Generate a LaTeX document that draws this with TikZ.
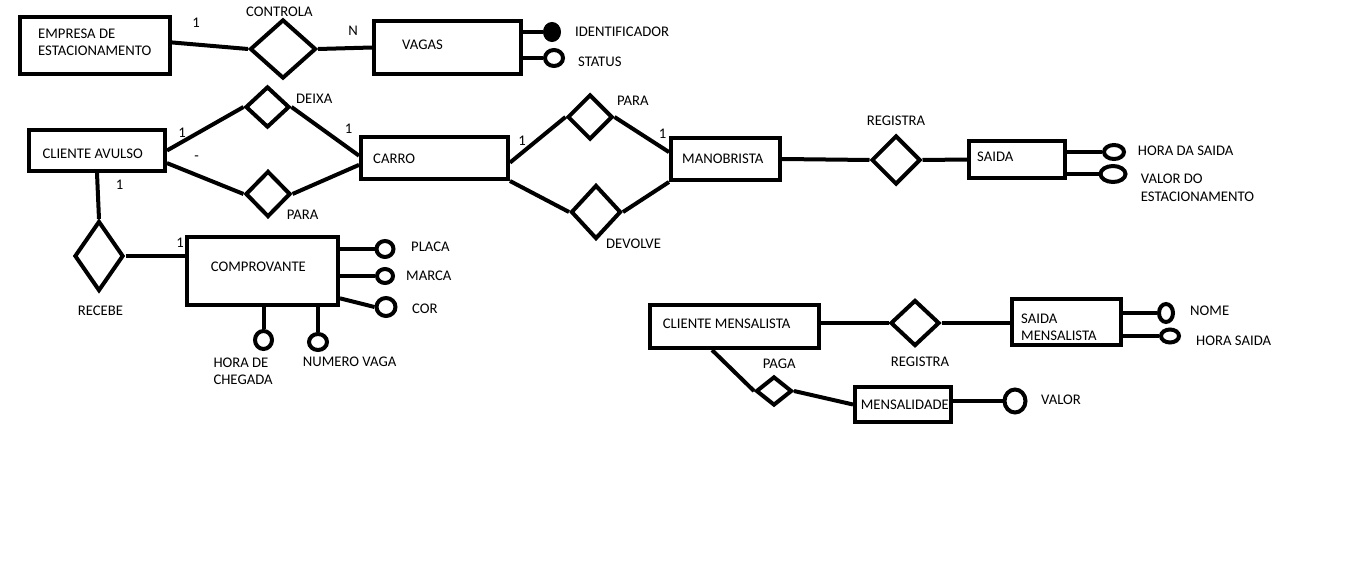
\documentclass[tikz,border=0pt]{standalone}
\usepackage{fontspec}
\setmainfont{Carlito}
\usetikzlibrary{shapes.geometric,calc}
\begin{document}
\begin{tikzpicture}[x=1pt,y=-1pt,
  every node/.style={inner sep=0pt},
  ent/.style={draw,line width=4pt,line join=miter,rectangle},
  rel/.style={draw,line width=4pt,line join=miter,diamond},
  attr/.style={draw,line width=4pt,ellipse},
  keyattr/.style={attr,fill=black},
  txt/.style={font=\fontsize{14.7}{17.5}\selectfont},
  lbl/.style={txt,anchor=west,text height=9.5pt,text depth=0pt},
  mlbl/.style={txt,anchor=north west,align=left},
  card/.style={txt,anchor=center,text height=9.5pt,text depth=0pt},
  link/.style={line width=4pt}]
\fill[white] (0,0) rectangle (1360,578);
\useasboundingbox (0,0) rectangle (1360,578);

% entities
\node[ent,minimum width=150pt,minimum height=57pt] (emp) at (95,45.5) {};
\node[ent,minimum width=147pt,minimum height=53pt] (vagas) at (447.5,47.5) {};
\node[ent,minimum width=136pt,minimum height=41pt] (avulso) at (97,150.5) {};
\node[ent,minimum width=147pt,minimum height=42pt] (carro) at (434.5,158) {};
\node[ent,minimum width=109pt,minimum height=42pt] (mano) at (725.5,159) {};
\node[ent,minimum width=96pt,minimum height=37pt] (saida) at (1017,159.5) {};
\node[ent,minimum width=151pt,minimum height=68pt] (comp) at (262.5,271) {};
\node[ent,minimum width=169pt,minimum height=43pt] (mensalista) at (734.5,326.5) {};
\node[ent,minimum width=109pt,minimum height=46pt] (saidam) at (1066.5,322) {};
\node[ent,minimum width=96pt,minimum height=35pt] (mens) at (903,404.5) {};

% relationships
\node[rel,minimum width=66pt,minimum height=59pt] (controla) at (283,49) {};
\node[rel,minimum width=44pt,minimum height=41pt] (deixa) at (267.5,107) {};
\node[rel,minimum width=45pt,minimum height=46pt] (para1) at (268,194) {};
\node[rel,minimum width=49pt,minimum height=70pt] (recebe) at (99,256) {};
\node[rel,minimum width=45pt,minimum height=45pt] (para2) at (590,117) {};
\node[rel,minimum width=50pt,minimum height=54pt] (devolve) at (596,212) {};
\node[rel,minimum width=49pt,minimum height=49pt] (reg1) at (896,160) {};
\node[rel,minimum width=49pt,minimum height=46pt] (reg2) at (915,323) {};
\node[rel,minimum width=36pt,minimum height=29pt] (paga) at (774,391) {};

% attributes
\node[keyattr,minimum width=14pt,minimum height=16pt] (ident) at (552,32) {};
\node[attr,minimum width=18pt,minimum height=16pt] (status) at (554,58) {};
\node[attr,minimum width=17pt,minimum height=16pt] (placa) at (385,249) {};
\node[attr,minimum width=16pt,minimum height=14pt] (marca) at (385,276) {};
\node[attr,minimum width=19pt,minimum height=18pt] (cor) at (386,307) {};
\node[attr,minimum width=17pt,minimum height=18pt] (chegada) at (263.5,340) {};
\node[attr,minimum width=18pt,minimum height=16pt] (numvaga) at (318,342) {};
\node[attr,minimum width=20pt,minimum height=14pt] (horasaida) at (1114,152) {};
\node[attr,minimum width=25pt,minimum height=16pt] (valorest) at (1113,174) {};
\node[attr,minimum width=14pt,minimum height=18pt] (nome) at (1166,313) {};
\node[attr,minimum width=18pt,minimum height=13pt] (horasaidam) at (1170,336) {};
\node[attr,minimum width=21pt,minimum height=23pt] (valor) at (1015,401) {};

% connectors
\draw[link] ($(emp.north east)!0.45!(emp.south east)$) -- (controla.west);
\draw[link] (controla.east) -- (vagas.west);
\draw[link] (vagas.east |- ident.west) -- (ident.west);
\draw[link] (vagas.east |- status.west) -- (status.west);
\draw[link] (avulso.east) -- (deixa.west);
\draw[link] ($(avulso.north east)!0.78!(avulso.south east)$) -- (para1.west);
\draw[link] (deixa.east) -- ($(carro.north west)!0.45!(carro.south west)$);
\draw[link] (para1.east) -- ($(carro.north west)!0.65!(carro.south west)$);
\draw[link] (avulso.south) -- (recebe.north);
\draw[link] (recebe.east) -- (comp.west |- recebe.east);
\draw[link] (comp.east |- placa.west) -- (placa.west);
\draw[link] (comp.east |- marca.west) -- (marca.west);
\draw[link] ($(comp.north east)!0.88!(comp.south east)$) -- (cor.west);
\draw[link] (chegada.north |- comp.south) -- (chegada.north);
\draw[link] (numvaga.north |- comp.south) -- (numvaga.north);
\draw[link] ($(carro.north east)!0.6!(carro.south east)$) -- (para2.west);
\draw[link] (para2.east) -- ($(mano.north west)!0.35!(mano.south west)$);
\draw[link] (carro.south east) -- (devolve.west);
\draw[link] (devolve.east) -- (mano.south west);
\draw[link] (mano.east) -- (reg1.west);
\draw[link] (reg1.east) -- (saida.west);
\draw[link] (saida.east |- horasaida.west) -- (horasaida.west);
\draw[link] (saida.east |- valorest.west) -- (valorest.west);
\draw[link] (mensalista.east |- reg2.west) -- (reg2.west);
\draw[link] (reg2.east) -- (saidam.west |- reg2.east);
\draw[link] (saidam.east |- nome.west) -- (nome.west);
\draw[link] (saidam.east |- horasaidam.west) -- (horasaidam.west);
\draw[link] ($(mensalista.south west)!0.37!(mensalista.south east)$) -- (paga.west);
\draw[link] (paga.east) -- (mens.west);
\draw[link] (mens.east |- valor.west) -- (valor.west);

% texts
\node[mlbl] (t-emp) at (38,28.3) {EMPRESA DE\\ESTACIONAMENTO};
\node[lbl] (t-controla) at (246,11.3) {CONTROLA};
\node[lbl] (t-vagas) at (402,45) {VAGAS};
\node[lbl] (t-ident) at (575,32) {IDENTIFICADOR};
\node[lbl] (t-status) at (578,62) {STATUS};
\node[lbl] (t-avulso) at (42.3,153.7) {CLIENTE AVULSO};
\node[lbl] (t-deixa) at (296,98.8) {DEIXA};
\node[lbl] (t-para1) at (286.7,214.5) {PARA};
\node[lbl] (t-recebe) at (77.7,310.3) {RECEBE};
\node[lbl] (t-comp) at (210.7,266.3) {COMPROVANTE};
\node[mlbl] (t-chegada) at (213.3,357.3) {HORA DE\\CHEGADA};
\node[lbl] (t-numvaga) at (302.7,362) {NUMERO VAGA};
\node[lbl] (t-placa) at (411,247) {PLACA};
\node[lbl] (t-marca) at (406,276) {MARCA};
\node[lbl] (t-cor) at (412,309) {COR};
\node[lbl] (t-carro) at (373,158.7) {CARRO};
\node[lbl] (t-para2) at (617,100.8) {PARA};
\node[lbl] (t-devolve) at (606,243.8) {DEVOLVE};
\node[lbl] (t-mano) at (682,159.2) {MANOBRISTA};
\node[lbl] (t-reg1) at (866.7,120.5) {REGISTRA};
\node[lbl] (t-saida) at (977,156.3) {SAIDA};
\node[lbl] (t-horasaida) at (1137.7,150.5) {HORA DA SAIDA};
\node[mlbl] (t-valorest) at (1140.7,174) {VALOR DO\\ESTACIONAMENTO};
\node[lbl] (t-mensalista) at (662.7,324.2) {CLIENTE MENSALISTA};
\node[lbl] (t-reg2) at (890.7,362) {REGISTRA};
\node[lbl] (t-paga) at (762.7,364.2) {PAGA};
\node[lbl] (t-mens) at (860.7,404.3) {MENSALIDADE};
\node[mlbl] (t-saidam) at (1021,313.3) {SAIDA\\MENSALISTA};
\node[lbl] (t-nome) at (1190,310.7) {NOME};
\node[lbl] (t-horasaidam) at (1196,341) {HORA SAIDA};
\node[lbl] (t-valor) at (1041,400) {VALOR};

% cardinalities
\node[card] (c-emp) at (196,22.5) {1};
\node[card] (c-vagas) at (353,31) {N};
\node[card] (c-avulso) at (182,132.5) {1};
\node[card] (c-dash) at (196.5,155.7) {-};
\node[card] (c-avulso2) at (119.5,184.5) {1};
\node[card] (c-comp) at (180,242.5) {1};
\node[card] (c-carro) at (348.5,129) {1};
\node[card] (c-carro2) at (522,140.5) {1};
\node[card] (c-mano) at (662.5,133.5) {1};
\end{tikzpicture}
\end{document}
